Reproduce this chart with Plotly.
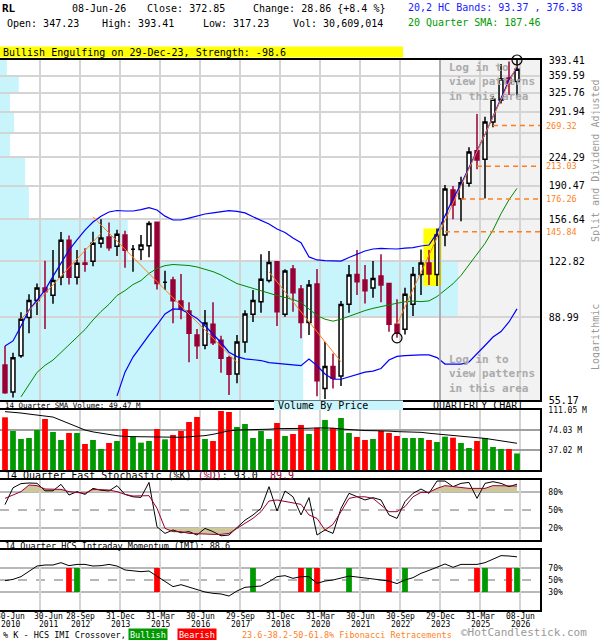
import numpy as np
import plotly.graph_objects as go

W, H = 600, 640
MONO = "DejaVu Sans Mono"

# ---------------- data: quarterly candles 30-Jun-2010 .. 08-Jun-2026 ----------------
ticker = "RL"
last_date = "08-Jun-26"

open_ = [67.5, 57.8, 71.2, 88.9, 98.1, 105.4, 101.0, 112.1, 138.9, 112.1,
         121.7, 123.0, 136.4, 141.5, 134.1, 143.1, 131.8, 131.6, 134.5, 154.0,
         109.0, 110.3, 97.7, 92.3, 80.3, 75.7, 85.5, 77.9, 70.4, 64.1,
         77.1, 90.6, 97.3, 110.0, 122.7, 90.6, 117.6, 104.7, 86.3, 107.8,
         59.0, 67.0, 63.4, 95.9, 114.0, 110.3, 105.4, 112.9, 108.2, 85.5,
         83.0, 95.9, 114.0, 121.7, 113.9, 143.1, 185.6, 176.6, 193.0, 232.8,
         221.6, 274.9, 312.2, 354.3, 347.23]
high = [75.4, 72.5, 91.6, 101.6, 108.2, 123.4, 131.2, 145.6, 142.8, 131.2,
        132.5, 145.9, 156.7, 153.9, 147.5, 146.6, 135.1, 143.1, 155.0, 154.5,
        116.4, 112.5, 114.2, 97.0, 83.2, 92.8, 97.0, 80.0, 71.2, 80.3,
        92.6, 104.1, 128.0, 130.5, 123.0, 117.4, 120.3, 107.2, 110.3, 117.6,
        77.3, 72.2, 97.7, 120.3, 131.2, 120.3, 123.2, 128.0, 108.3, 98.8,
        105.5, 118.9, 131.7, 131.2, 148.6, 191.0, 189.9, 200.3, 237.8, 288.1,
        283.6, 319.6, 384.4, 390.0, 393.41]
low = [57.2, 56.0, 70.4, 81.1, 90.2, 83.2, 96.2, 107.0, 107.6, 107.6,
       115.8, 119.4, 132.9, 130.7, 126.8, 118.4, 115.8, 123.9, 125.8, 104.5,
       104.1, 85.9, 88.0, 68.6, 69.9, 74.0, 75.8, 64.6, 56.8, 60.8,
       72.5, 86.6, 91.4, 108.8, 84.6, 89.3, 91.9, 78.8, 80.3, 56.4,
       55.5, 59.0, 59.8, 91.4, 101.2, 96.4, 99.6, 97.0, 81.8, 79.0,
       80.5, 89.7, 101.2, 107.2, 106.6, 134.2, 156.7, 155.0, 189.1, 209.2,
       176.8, 266.7, 306.2, 321.4, 317.23]
close = [57.5, 70.4, 88.0, 98.1, 105.4, 103.1, 110.1, 138.9, 112.1, 121.5,
         120.8, 136.4, 140.7, 132.9, 143.7, 131.0, 131.8, 135.1, 152.9, 108.2,
         109.0, 97.9, 93.3, 81.1, 75.5, 86.1, 76.8, 70.2, 64.0, 77.1,
         90.7, 98.1, 110.8, 122.1, 91.9, 116.2, 102.5, 86.3, 107.2, 61.7,
         67.0, 62.6, 95.8, 113.6, 109.3, 103.7, 111.4, 107.2, 85.5, 81.2,
         101.6, 114.0, 121.7, 114.2, 143.1, 186.7, 170.2, 193.7, 231.2, 220.7,
         274.9, 313.5, 352.5, 343.99, 372.85]

# volume in millions
volume_m = [97.5, 72.2, 57.4, 59.2, 74.0, 94.4, 70.3, 55.5, 68.5, 68.5,
            48.1, 55.5, 38.9, 50.0, 53.7, 75.9, 61.7, 50.6, 53.7, 75.9,
            56.8, 64.8, 72.2, 88.8, 98.1, 57.4, 53.7, 109.2, 107.4, 79.6,
            85.1, 59.2, 72.2, 57.4, 87.0, 62.9, 66.6, 83.3, 66.6, 77.7,
            92.5, 77.7, 96.3, 68.5, 61.1, 55.5, 57.4, 72.2, 68.5, 62.9,
            59.2, 59.2, 59.2, 55.5, 51.8, 61.7, 59.8, 50.0, 40.7, 53.7,
            59.2, 42.6, 38.9, 38.9, 30.609014]
vol_sma_m = [108, 107.4, 105.5, 103.5, 101.8, 100.6, 98, 92, 86, 80,
             74, 70.5, 68, 65.5, 63.5, 62, 61.7, 61.7, 61.2, 60.6,
             60.2, 59.8, 60.5, 61.5, 62.5, 63.6, 66, 69.5, 72.5, 74,
             74.2, 74.5, 74.7, 75.5, 76.5, 76.5, 76.5, 76.5, 77.2, 78,
             78.4, 77.5, 75.9, 74.5, 73.4, 73, 72.8, 72.8, 72, 71,
             70.6, 70.3, 69.7, 68, 66.5, 65, 63, 61.8, 60.8, 59.8,
             58.5, 56.5, 54.5, 52, 49.47]

hc_upper = [75.4, 77.6, 84.6, 92.8, 98.3, 104.1, 112.7, 121.8, 131.2, 139.1,
            147.3, 154.3, 159.6, 163.5, 164.9, 164.4, 164.4, 165.8, 167.7, 165.4,
            159.6, 156.1, 156.1, 157.8, 159.6, 161.6, 162.6, 164.0, 164.7, 164.0,
            162.6, 159.0, 155.6, 152.5, 148.2, 145.2, 140.7, 136.9, 126.1, 123.9,
            123.5, 123.1, 123.1, 125.7, 128.3, 130.5, 132.0, 132.5, 132.2, 132.0,
            132.7, 133.1, 134.3, 135.1, 144.9, 160.5, 176.5, 192.0, 211.0, 232.0,
            256.0, 284.0, 316.0, 350.0, 376.38]
hc_lower = [None] * 14 + [
            56.5, 64.8, 70.7, 75.4, 80.3, 85.1, 90.7, 93.4, 93.1, 90.9,
            88.4, 84.7, 80.9, 76.9, 72.7, 70.9, 70.0, 69.6, 69.3, 68.5,
            68.2, 68.1, 67.8, 67.3, 69.9, 67.3, 64.1, 62.2, 62.2, 63.0,
            63.9, 64.8, 65.2, 66.2, 69.5, 71.0, 71.3, 71.6, 71.6, 71.6,
            70.5, 67.9, 67.9, 67.9, 68.7, 72.3, 75.6, 79.4, 81.9, 86.6,
            93.37]
sma20 = [None, None,
         56.2, 60.3, 64.7, 67.4, 69.5, 72.6, 75.8, 79.0, 82.9, 87.6,
         92.0, 95.9, 100.9, 103.8, 107.5, 110.0, 114.6, 118.0, 119.9, 120.7,
         120.6, 120.0, 119.0, 117.6, 115.8, 113.6, 110.7, 108.1, 106.6, 105.3,
         103.8, 102.3, 100.9, 99.7, 98.6, 96.9, 93.4, 89.9, 88.0, 87.0,
         88.0, 89.6, 91.2, 92.5, 93.7, 94.7, 95.6, 96.5, 97.3, 97.7,
         97.4, 97.8, 100.3, 104.1, 108.0, 113.3, 120.3, 128.2, 136.3, 147.3,
         161.8, 175.5, 187.46]

stoch_k = [59, 87, 94, 95, 94.5, 82, 82, 92.8, 75, 80.6,
           76, 86, 83, 81.7, 90.6, 76, 72, 71, 96, 22,
           11, 16.7, 12, 14, 8.3, 19.4, 14, 7, 8.3, 20.5,
           33, 41.7, 52.8, 88.9, 48.3, 81.7, 72, 41.7, 70.6, 8.3,
           16.7, 11, 52.8, 77.8, 72, 66.7, 70.6, 66.7, 41.7, 36,
           64, 77.8, 85, 77.8, 98.3, 98.3, 88.9, 94.4, 96, 69.4,
           94.4, 97.2, 94.4, 88.9, 93.0]
stoch_d = [69.4, 75, 80.6, 91.7, 90.6, 85, 84.4, 84.4, 80.6, 78.9,
           77.8, 84.4, 83.3, 83.3, 80.6, 76, 73.3, 73.9, 73.9, 52.8,
           19.4, 13.9, 13.9, 11, 11, 10, 9.4, 9.4, 11, 19.4,
           27.8, 36.1, 47.2, 65, 66.7, 63.9, 61.1, 59.4, 41.7, 36,
           16.7, 26, 47.2, 69.4, 72, 72, 69.4, 58.3, 47.2, 47.2,
           55.6, 72, 79.4, 79.4, 86, 90.6, 88.9, 87.2, 86, 86,
           86, 90.6, 90.6, 90.6, 89.9]
imi = [48.9, 51, 55.6, 65, 73.3, 75, 75, 78.9, 73.9, 76,
       76, 73.3, 73.9, 76, 73.3, 66.7, 65, 63.9, 65, 56,
       47.2, 38.9, 42.2, 37.8, 34.4, 30, 27.8, 26.7, 23.3, 31.7,
       37.8, 39, 40, 47.2, 55.6, 57.2, 52.8, 55.6, 55.6, 44.4,
       48.3, 50, 53, 56.5, 55, 53.9, 51.7, 50, 48.3, 44,
       50, 53.9, 61.1, 66, 72, 76.7, 71.1, 76, 76, 76,
       78.9, 85, 90.6, 90, 88.6]
imi_bull = [9, 31, 38, 43, 50, 60, 64]
imi_bear = [8, 19, 37, 39, 48, 59, 63]

price_ticks = [55.17, 88.99, 122.82, 156.64, 190.47, 224.29, 258.11,
               291.94, 325.76, 359.59, 393.41]
hidden_tick = 258.11
# volume by price, share of busiest band, bands between price_ticks (bottom -> top)
vbp_share = [66.2, 100, 27.9, 6.3, 5.5, 2.2, 3.1, 2.2, 4.1, 1.5]

fib_levels = [269.32, 213.03, 176.26, 145.84]
fib_start = [61, 59, 57, 55]
trend_lines = [((2, 88.0), (12, 144.5)),
               ((11, 159.0), (29, 68.5)),
               ((33, 115.7), (42, 68.8)),
               ((49, 85.5), (64, 382.0))]
pattern_idx = [53, 54]
pattern_text = "Bullish Engulfing on 29-Dec-23, Strength: -98.6"
hidden_from = 54

grid_idx = [4, 9, 14, 19, 24, 29, 34, 39, 44, 49, 54, 59, 64]
grid_days = ["30-Jun", "28-Sep", "31-Dec", "31-Mar", "30-Jun", "29-Sep", "31-Dec",
             "31-Mar", "30-Jun", "30-Sep", "29-Dec", "31-Mar", "08-Jun"]
grid_years = ["2011", "2012", "2013", "2015", "2016", "2017", "2018",
              "2020", "2021", "2022", "2023", "2025", "2026"]
first_day, first_year = "30-Jun", "2010"

# ---------------- styling ----------------
n = len(close)
idx = list(range(n))
X_MIN, X_MAX = -0.625, 66.875
GRID_SHIFT = 0.375
grid_pos = [g + GRID_SHIFT for g in grid_idx]
RED_C = "#990033"
UP_G, DN_R = "#009900", "#ff0000"
ORANGE = "#ff7f1e"
GRIDC = "#d4d4d4"
REFC = "#a0a0a0"


def px(x):
    return x / W


def py(y):
    return 1 - y / H


fig = go.Figure()

fig.add_trace(go.Candlestick(
    x=idx, open=open_, high=high, low=low, close=close, xaxis="x", yaxis="y",
    increasing=dict(line=dict(color="black", width=1.5), fillcolor="white"),
    decreasing=dict(line=dict(color=RED_C, width=1.5), fillcolor=RED_C),
    whiskerwidth=0, hoverinfo="skip"))
fig.add_trace(go.Scatter(x=idx, y=hc_upper, mode="lines", line=dict(color="#0000ff", width=1.2)))
fig.add_trace(go.Scatter(x=idx, y=hc_lower, mode="lines", line=dict(color="#0000ff", width=1.2)))
fig.add_trace(go.Scatter(x=idx, y=sma20, mode="lines", line=dict(color="#008800", width=1)))
for (x0, y0), (x1, y1) in trend_lines:
    fig.add_trace(go.Scatter(x=[x0, x1], y=[y0, y1], mode="lines",
                             line=dict(color=ORANGE, width=1)))
for lv, st in zip(fib_levels, fib_start):
    fig.add_trace(go.Scatter(x=[st, X_MAX], y=[lv, lv], mode="lines",
                             line=dict(color=ORANGE, width=1.5, dash="5px,4px")))
fig.add_trace(go.Scatter(x=[49, 64], y=[low[49], high[64]], mode="markers", cliponaxis=False,
                         marker=dict(symbol="circle-open", size=10, color="black",
                                     line=dict(width=1.2))))

# volume
vcol = [UP_G if c >= o else DN_R for o, c in zip(open_, close)]
fig.add_trace(go.Bar(x=idx, y=volume_m, marker=dict(color=vcol, line=dict(width=0)),
                     width=0.72, xaxis="x2", yaxis="y2"))
fig.add_trace(go.Scatter(x=idx, y=vol_sma_m, mode="lines", line=dict(color="black", width=1),
                         xaxis="x2", yaxis="y2"))

# stochastic
FILLC = "#cfc79c"
fig.add_trace(go.Scatter(x=idx, y=[80] * n, mode="lines", line=dict(width=0),
                         xaxis="x3", yaxis="y3"))
fig.add_trace(go.Scatter(x=idx, y=[max(v, 80) for v in stoch_d], mode="lines",
                         line=dict(width=0), fill="tonexty", fillcolor=FILLC,
                         xaxis="x3", yaxis="y3"))
fig.add_trace(go.Scatter(x=idx, y=[20] * n, mode="lines", line=dict(width=0),
                         xaxis="x3", yaxis="y3"))
fig.add_trace(go.Scatter(x=idx, y=[min(v, 20) for v in stoch_d], mode="lines",
                         line=dict(width=0), fill="tonexty", fillcolor=FILLC,
                         xaxis="x3", yaxis="y3"))
fig.add_trace(go.Scatter(x=idx, y=stoch_k, mode="lines", line=dict(color="black", width=1),
                         xaxis="x3", yaxis="y3"))
fig.add_trace(go.Scatter(x=idx, y=stoch_d, mode="lines", line=dict(color=RED_C, width=1),
                         xaxis="x3", yaxis="y3"))

# IMI
fig.add_trace(go.Bar(x=imi_bull, y=[40] * len(imi_bull), base=30, width=0.72,
                     marker=dict(color=UP_G, line=dict(width=0)), xaxis="x4", yaxis="y4"))
fig.add_trace(go.Bar(x=imi_bear, y=[40] * len(imi_bear), base=30, width=0.72,
                     marker=dict(color=DN_R, line=dict(width=0)), xaxis="x4", yaxis="y4"))
fig.add_trace(go.Scatter(x=idx, y=imi, mode="lines", line=dict(color="black", width=1),
                         xaxis="x4", yaxis="y4"))

# ---------------- shapes ----------------
shapes = [dict(type="rect", xref="x", yref="y domain", x0=hidden_from + GRID_SHIFT, x1=X_MAX,
               y0=0, y1=1, fillcolor="#f2f2f2", line_width=0, layer="below")]
for j, s in enumerate(vbp_share):
    shapes.append(dict(type="rect", xref="x domain", yref="y", x0=0, x1=s / 100 * 0.848,
                       y0=price_ticks[j], y1=price_ticks[j + 1], fillcolor="#c8f4fc",
                       line_width=0, layer="below"))
shapes.append(dict(type="rect", xref="x", yref="y",
                   x0=pattern_idx[0] - 0.7, x1=pattern_idx[-1] + 0.6,
                   y0=min(low[i] for i in pattern_idx), y1=max(high[i] for i in pattern_idx),
                   fillcolor="#ffff00", line_width=0, layer="below"))
shapes.append(dict(type="line", xref="x", yref="y domain", x0=hidden_from + GRID_SHIFT,
                   x1=hidden_from + GRID_SHIFT, y0=0, y1=1,
                   line=dict(color=REFC, width=1.5), layer="above"))
for ax, lvls in (("3", (20, 50, 80)), ("4", (30, 50, 70))):
    for lv in lvls:
        shapes.append(dict(type="line", xref=f"x{ax} domain", yref=f"y{ax}", x0=0, x1=1,
                           y0=lv, y1=lv, layer="below",
                           line=dict(color=REFC, width=1.5, dash="dash" if lv == 50 else "solid")))
# header / label backgrounds
shapes.append(dict(type="rect", xref="paper", yref="paper", x0=0, x1=px(403),
                   y0=py(57.5), y1=py(46.5), fillcolor="#ffff00", line_width=0))
shapes.append(dict(type="rect", xref="paper", yref="paper", x0=px(274), x1=px(403),
                   y0=py(410), y1=py(400.5), fillcolor="#c8f4fc", line_width=0))


# ---------------- annotations ----------------
def txt(x, y, s, size=10, color="black", xanchor="left", **kw):
    return dict(xref="paper", yref="paper", x=px(x), y=py(y), text=s, showarrow=False,
                xanchor=xanchor, yanchor="middle",
                font=dict(family=MONO, size=size, color=color), **kw)


o, h, l, c = open_[-1], high[-1], low[-1], close[-1]
chg = c - close[-2]
pct = chg / close[-2] * 100
ann = [
    txt(0, 9, f"<b>{ticker}</b>", size=11),
    txt(70, 9, last_date),
    txt(145, 9, f"Close: {c:.2f}"),
    txt(251, 9, f"Change: {chg:.2f} {{{pct:+.1f} %}}"),
    txt(406, 7.5, f"20,2 HC Bands: {hc_lower[-1]:.2f} , {hc_upper[-1]:.2f}", color="#1a1aff"),
    txt(5, 24, f"Open: {o:.2f}"),
    txt(100, 24, f"High: {h:.2f}"),
    txt(201, 24, f"Low: {l:.2f}"),
    txt(291, 24, f"Vol: {int(round(volume_m[-1] * 1e6)):,}"),
    txt(406, 22, f"20 Quarter SMA: {sma20[-1]:.2f}", color="#009900"),
    txt(1, 52, pattern_text),
    txt(447, 82, "<b>Log in to<br>view patterns<br>in this area</b>", size=11, color="#aaaaaa",
        align="left"),
    txt(447, 374, "<b>Log in to<br>view patterns<br>in this area</b>", size=11, color="#aaaaaa",
        align="left"),
    txt(595, 161, "Split and Dividend Adjusted", color="#999999", xanchor="center",
        textangle=-90),
    txt(595, 337, "Logarithmic", color="#999999", xanchor="center", textangle=-90),
    txt(3, 405, f"14 Quarter SMA Volume: {vol_sma_m[-1]:.2f} M", size=7.5),
    txt(276, 405, "Volume By Price"),
    txt(431, 405, "QUARTERLY CHART"),
    txt(3, 475.5, f"14 Quarter Fast Stochastic (%K) <span style='color:{RED_C}'>(%D)</span>"
                  f": {stoch_k[-1]:.1f}  <span style='color:{RED_C}'>{stoch_d[-1]:.1f}</span>"),
    txt(3, 545.5, f"14 Quarter HCS Intraday Momentum (IMI): {imi[-1]:.1f}", size=8.5),
    txt(1, 634.5, "% K - HCS IMI Crossover,", size=8.5),
    txt(128, 634.5, "Bullish", size=8.5, color="white", bgcolor=UP_G, borderpad=1),
    txt(177, 634.5, "Bearish", size=8.5, color="white", bgcolor=DN_R, borderpad=1),
    txt(240, 634.5, "23.6-38.2-50-61.8% Fibonacci Retracements", size=8.5, color=ORANGE),
    txt(459, 632.5, "©HotCandlestick.com", size=11, color="#999999"),
]
for lv in fib_levels:
    ann.append(dict(xref="paper", yref="y", x=px(544), y=np.log10(lv), text=f"{lv:.2f}",
                    showarrow=False, xanchor="left", yanchor="middle",
                    font=dict(family=MONO, size=8.5, color=ORANGE)))
# two-line date labels under the bottom panel; the first two are nudged apart as in the source
label_pos = [0.625] + [grid_pos[0] + 1] + grid_pos[1:]
label_day = [first_day] + grid_days
label_year = [first_year] + grid_years
for pos, day, yr in zip(label_pos, label_day, label_year):
    for s, yy in ((day, 616), (yr, 624.5)):
        ann.append(dict(xref="x4", yref="paper", x=pos, y=py(yy), text=s, showarrow=False,
                        xanchor="center", yanchor="middle",
                        font=dict(family=MONO, size=8)))

# ---------------- axes ----------------
xbase = dict(range=[X_MIN, X_MAX], domain=[0, 540 / W], showgrid=True, gridcolor=GRIDC,
             gridwidth=1.5, tickmode="array", tickvals=grid_pos, showticklabels=False,
             zeroline=False, showline=True, linecolor="black", linewidth=1.5, mirror=True,
             ticks="", automargin=False)
ybase = dict(side="right", zeroline=False, showline=True, linecolor="black", linewidth=1.5,
             mirror=True, ticks="outside", ticklen=5, tickcolor="rgba(0,0,0,0)",
             automargin=False, tickmode="array")

price_text = ["" if v == hidden_tick else f"{v:.2f}" for v in price_ticks]

fig.update_layout(
    width=W, height=H, margin=dict(l=0, r=0, t=0, b=0), template="none",
    paper_bgcolor="white", plot_bgcolor="white", showlegend=False, barmode="overlay",
    font=dict(family=MONO, size=10, color="black"),
    xaxis=dict(anchor="y", rangeslider=dict(visible=False), **xbase),
    xaxis2=dict(anchor="y2", **xbase),
    xaxis3=dict(anchor="y3", **xbase),
    xaxis4=dict(anchor="y4", **xbase),
    yaxis=dict(anchor="x", domain=[py(400), py(60)], type="log",
               range=[np.log10(price_ticks[0]), np.log10(price_ticks[-1])],
               tickvals=price_ticks, ticktext=price_text, showgrid=True, gridcolor=GRIDC,
               gridwidth=1.5, tickfont=dict(family=MONO, size=10), **ybase),
    yaxis2=dict(anchor="x2", domain=[py(470), py(410)], range=[0, 111.05],
                tickvals=[37.02, 74.03, 111.05],
                ticktext=["37.02 M", "74.03 M", "111.05 M"], showgrid=True,
                gridcolor=REFC, gridwidth=1.5, tickfont=dict(family=MONO, size=8), **ybase),
    yaxis3=dict(anchor="x3", domain=[py(540), py(480)], range=[0, 100],
                tickvals=[20, 50, 80], ticktext=["20%", "50%", "80%"], showgrid=False,
                tickfont=dict(family=MONO, size=8), **ybase),
    yaxis4=dict(anchor="x4", domain=[py(610), py(550)], range=[0, 100],
                tickvals=[30, 50, 70], ticktext=["30%", "50%", "70%"], showgrid=False,
                tickfont=dict(family=MONO, size=8), **ybase),
    shapes=shapes, annotations=ann,
)

fig.write_html("out.html", config={"displayModeBar": False},
               post_script="document.body.style.margin='0px';"
                           "document.body.style.overflow='hidden';")
